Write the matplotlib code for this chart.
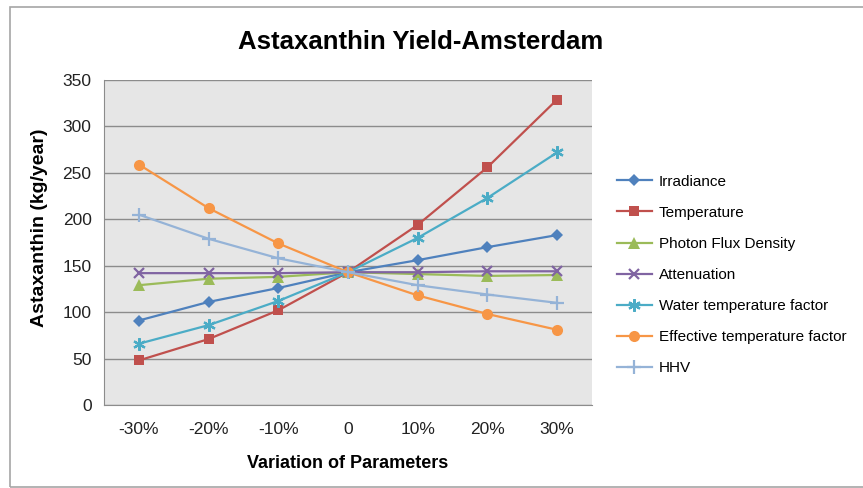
import numpy as np
import matplotlib.pyplot as plt
from matplotlib.patches import Rectangle

plt.rcParams['font.family'] = ['Liberation Sans', 'DejaVu Sans']

# x categories
labels = ['-30%', '-20%', '-10%', '0', '10%', '20%', '30%']

# series values (kg/year)
irradiance = [91, 111, 126, 143, 156, 170, 183]
temperature = [48, 71, 102, 143, 194, 256, 329]
photon_flux = [129, 136, 138, 143, 141, 139, 140]
attenuation = [142, 142, 142, 143, 143, 144, 144]
water_temp = [66, 86, 112, 143, 180, 223, 272]
effective_temp = [259, 212, 174, 143, 118, 98, 81]
hhv = [205, 179, 158, 143, 129, 119, 110]

series = [
    ('Irradiance', irradiance, '#4F81BD', 'D', 6),
    ('Temperature', temperature, '#C0504D', 's', 7.5),
    ('Photon Flux Density', photon_flux, '#9BBB59', '^', 8),
    ('Attenuation', attenuation, '#8064A2', 'x', 7),
    ('Water temperature factor', water_temp, '#4BACC6', (6, 2, 0), 9),
    ('Effective temperature factor', effective_temp, '#F79646', 'o', 8),
    ('HHV', hhv, '#95B3D7', '+', 10),
]

fig = plt.figure(figsize=(8.63, 4.88), dpi=100)
ax = fig.add_axes([104 / 863, 1 - 405 / 488, (592 - 104) / 863, (405 - 80) / 488])
ax.set_facecolor('#E6E6E6')

x = np.arange(len(labels))
for name, vals, col, mk, ms in series:
    kw = dict(markeredgewidth=1.6) if mk in ('x', '+') or isinstance(mk, tuple) else dict(markeredgewidth=0)
    ax.plot(x, vals, color=col, marker=mk, markersize=ms, linewidth=1.6, label=name, **kw)

ax.set_xlim(-0.5, len(labels) - 0.5)
ax.set_ylim(0, 350)
ax.set_yticks(range(0, 351, 50))
ax.set_xticks(x)
ax.set_xticklabels(labels)
ax.yaxis.grid(True, color='#8C8C8C', linewidth=1)
ax.set_axisbelow(True)
for s in ['top', 'right']:
    ax.spines[s].set_visible(False)
for s in ['left', 'bottom']:
    ax.spines[s].set_color('#8C8C8C')
ax.tick_params(axis='both', labelsize=12.5, length=0, labelcolor='#222222')
ax.tick_params(axis='y', pad=9)
ax.tick_params(axis='x', pad=12)

ax.set_ylabel('Astaxanthin (kg/year)', fontsize=14, fontweight='bold')
ax.yaxis.set_label_coords((48 - 104) / 488, (405 - 228) / 325)
ax.set_xlabel('Variation of Parameters', fontsize=13, fontweight='bold', labelpad=13)
fig.text(0.487, 1 - 42 / 488, 'Astaxanthin Yield-Amsterdam', ha='center', va='center',
         fontsize=18.5, fontweight='bold')

fig.legend(loc='center left', bbox_to_anchor=(603 / 863, 1 - 275 / 488), frameon=False,
           fontsize=11, labelspacing=1.12, handlelength=2.3, handletextpad=0.45)

fig.patches.append(Rectangle((10 / 863, 1 / 488), 1.0, 1 - 8 / 488, transform=fig.transFigure,
                             fill=False, edgecolor='#A6A6A6', linewidth=1.2))

fig.savefig('out.png', dpi=100)
